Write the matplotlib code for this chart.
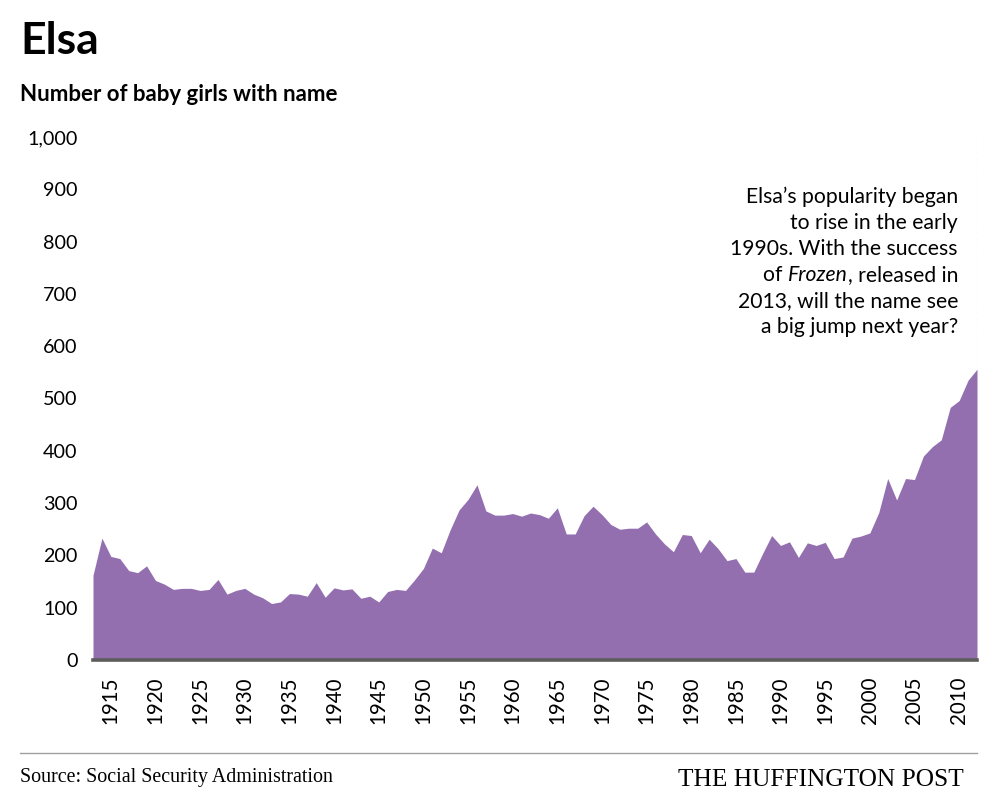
import matplotlib
matplotlib.use("Agg")
import matplotlib.pyplot as plt
import numpy as np

years = list(range(1913, 2013))
counts = [
    162, 233, 198, 194, 171, 167, 180, 152, 145, 135,   # 1913-1922
    137, 137, 133, 135, 154, 126, 133, 137, 126, 119,   # 1923-1932
    108, 111, 127, 126, 122, 148, 120, 138, 134, 136,   # 1933-1942
    118, 122, 111, 131, 135, 133, 153, 175, 214, 205,   # 1943-1952
    249, 287, 307, 335, 285, 277, 277, 280, 275, 281,   # 1953-1962
    278, 271, 291, 241, 241, 276, 294, 278, 259, 250,   # 1963-1972
    252, 252, 264, 241, 222, 207, 240, 238, 205, 231,   # 1973-1982
    213, 190, 194, 168, 168, 204, 238, 219, 226, 196,   # 1983-1992
    224, 219, 225, 194, 197, 233, 237, 243, 282, 347,   # 1993-2002
    306, 347, 345, 390, 408, 421, 483, 496, 535, 556,   # 2003-2012
]
y_ticks = [0, 100, 200, 300, 400, 500, 600, 700, 800, 900, 1000]
y_tick_labels = ["0", "100", "200", "300", "400", "500", "600", "700", "800", "900", "1,000"]
x_ticks = list(range(1915, 2011, 5))

title = "Elsa"
subtitle = "Number of baby girls with name"
note_lines = ["Elsa\u2019s popularity began", "to rise in the early",
              "1990s. With the success", None,
              "2013, will the name see", "a big jump next year?"]
source = "Source: Social Security Administration"
brand = "THE HUFFINGTON POST"

SANS = ["Lato", "DejaVu Sans"]
SERIF = ["Liberation Serif", "DejaVu Serif"]
FILL = "#946fb0"

W, H = 998, 810
fig = plt.figure(figsize=(W / 100, H / 100), dpi=100)
ax = fig.add_axes([93 / W, 1 - 660 / H, (977 - 93) / W, (660 - 137) / H])

ax.fill_between(years, counts, 0, color=FILL, linewidth=0)
ax.set_xlim(years[0], years[-1])
ax.set_ylim(0, 1000)
ax.set_yticks(y_ticks)
ax.set_yticklabels(y_tick_labels, fontfamily=SANS, fontsize=14.2)
ax.set_xticks(x_ticks)
ax.set_xticklabels([str(v) for v in x_ticks], rotation=90, fontfamily=SANS, fontsize=14.8)
ax.tick_params(axis="both", length=0)
ax.tick_params(axis="y", pad=11)
ax.tick_params(axis="x", pad=12)
for s in ["top", "left", "right"]:
    ax.spines[s].set_visible(False)
ax.spines["bottom"].set_color("#5c5c5c")
ax.spines["bottom"].set_linewidth(2.6)
ax.axvline(years[-1], color="#cccccc", linestyle=(0, (4, 4)), linewidth=0.8, zorder=0)

# title & subtitle
fig.text(20 / W, 1 - 54 / H, title, fontfamily=SANS, fontweight="bold", fontsize=32, va="baseline")
fig.text(20 / W, 1 - 101 / H, subtitle, fontfamily=SANS, fontweight="bold", fontsize=16, va="baseline")

# annotation
xr = 958 / W
base = 203
step = 26
FS = 15.2
fig.canvas.draw()
renderer = fig.canvas.get_renderer()
for i, line in enumerate(note_lines):
    yb = 1 - (base + i * step) / H
    if line is not None:
        fig.text(xr, yb, line, ha="right", va="baseline", fontfamily=SANS, fontsize=FS)
    else:
        t1 = fig.text(xr, yb, ", released in", ha="right", va="baseline", fontfamily=SANS, fontsize=FS)
        bb = t1.get_window_extent(renderer)
        t2 = fig.text(bb.x0 / W, yb, "Frozen", ha="right", va="baseline", fontfamily=SANS, fontsize=FS, style="italic")
        bb2 = t2.get_window_extent(renderer)
        fig.text(bb2.x0 / W, yb, "of ", ha="right", va="baseline", fontfamily=SANS, fontsize=FS)

# footer
fig.add_artist(plt.Line2D([20 / W, 977 / W], [1 - 753 / H, 1 - 753 / H], color="#a0a0a0", linewidth=1))
fig.text(20 / W, 1 - 782 / H, source, fontfamily=SERIF, fontsize=14.4, va="baseline")
fig.text(964 / W, 1 - 786 / H, brand, fontfamily=SERIF, fontsize=18.3, va="baseline", ha="right")

fig.savefig("out.png", dpi=100)
